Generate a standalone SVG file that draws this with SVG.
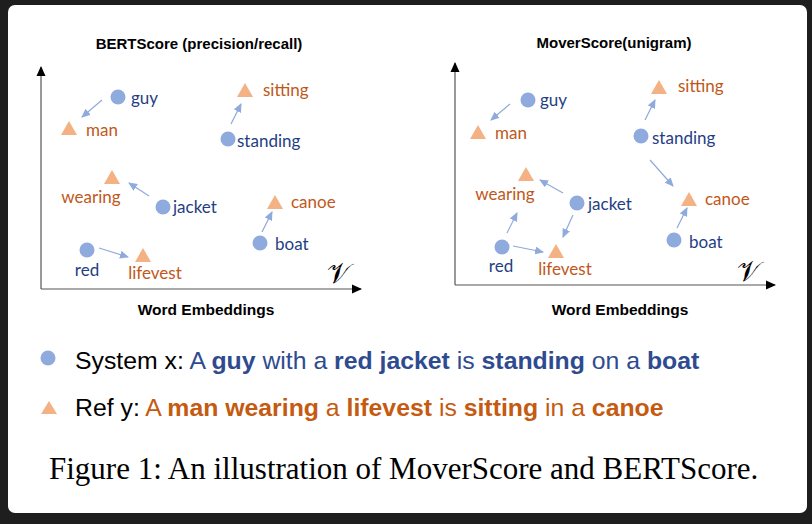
<svg xmlns="http://www.w3.org/2000/svg" width="812" height="524" viewBox="0 0 812 524">
<defs>
<marker id="arr" markerUnits="userSpaceOnUse" markerWidth="9" markerHeight="8" refX="8" refY="4" orient="auto"><path d="M0,0 L9,4 L0,8 Z" fill="#8FAADC"/></marker>
<marker id="axarr" markerUnits="userSpaceOnUse" markerWidth="10" markerHeight="10" refX="9" refY="5" orient="auto"><path d="M0,0.5 L10,5 L0,9.5 Z" fill="#000"/></marker>
</defs>
<style>
.sys{fill:#8FAADC}
.ref{fill:#F4B183}
.lb{font-family:Lato,"Open Sans",sans-serif;font-size:17px;fill:#243E84}
.lo{font-family:Lato,"Open Sans",sans-serif;font-size:17px;fill:#C0581A}
.ttl{font-family:"Liberation Sans",Arial,sans-serif;font-size:15px;font-weight:bold;fill:#000;text-anchor:middle}
.we{font-size:15.5px}
.ax{stroke:#555;stroke-width:1.2;fill:none;marker-end:url(#axarr)}
.cn{stroke:#8FAADC;stroke-width:1.2;fill:none;marker-end:url(#arr)}
.sent{font-family:"Liberation Sans",Arial,sans-serif;font-size:24.8px}
.b{font-weight:bold}
.cap{font-family:"Liberation Serif","Times New Roman",serif;font-size:31px;fill:#000}
.vv{font-family:"DejaVu Serif","Liberation Serif",serif;font-size:28px;fill:#000}
</style>
<rect width="812" height="524" fill="#1e1e1e"/>
<rect x="8" y="5" width="799" height="508" rx="7" fill="#fff"/>

<text class="ttl" x="199" y="49">BERTScore (precision/recall)</text>
<text class="ttl" x="614" y="48">MoverScore(unigram)</text>

<g id="axes">
<path class="ax" d="M41,289 L41,67"/>
<path class="ax" d="M41,289 L361,289"/>
<path class="ax" d="M455,285 L455,63"/>
<path class="ax" d="M455,285 L775,285"/>
<text class="vv" x="327" y="283">𝒱</text>
<text class="vv" x="737" y="281">𝒱</text>
</g>

<g id="connectors">
<path class="cn" d="M102,100 L82,117"/>
<path class="cn" d="M231,124 L241,104"/>
<path class="cn" d="M149,196 L129,183"/>
<path class="cn" d="M262,232 L272,212"/>
<path class="cn" d="M99,248 L128,257"/>
<path class="cn" d="M510,104 L491,120"/>
<path class="cn" d="M645,120 L655,100"/>
<path class="cn" d="M650,160 L673,186"/>
<path class="cn" d="M677,228 L687,208"/>
<path class="cn" d="M563,193 L540,180"/>
<path class="cn" d="M573,215 L563,237"/>
<path class="cn" d="M507,233 L517,213"/>
<path class="cn" d="M513,246 L543,252"/>
</g>

<g id="L-guy"><circle class="sys" cx="118" cy="97" r="7.5"/><text class="lb" x="131" y="104">guy</text></g>
<g id="L-man"><path class="ref" d="M69,121 L77,135 L61,135 Z"/><text class="lo" x="86" y="136">man</text></g>
<g id="L-sitting"><path class="ref" d="M245,83 L253,97 L237,97 Z"/><text class="lo" x="263" y="96">sitting</text></g>
<g id="L-standing"><circle class="sys" cx="228" cy="139" r="7.5"/><text class="lb" x="237" y="147">standing</text></g>
<g id="L-wearing"><path class="ref" d="M112,170 L120,184 L104,184 Z"/><text class="lo" x="91" y="203" text-anchor="middle">wearing</text></g>
<g id="L-jacket"><circle class="sys" cx="163" cy="207" r="7.5"/><text class="lb" x="173" y="213">jacket</text></g>
<g id="L-canoe"><path class="ref" d="M275,195 L283,209 L267,209 Z"/><text class="lo" x="291" y="208">canoe</text></g>
<g id="L-boat"><circle class="sys" cx="260" cy="243" r="7.5"/><text class="lb" x="275" y="250">boat</text></g>
<g id="L-red"><circle class="sys" cx="87" cy="250" r="7.5"/><text class="lb" x="87" y="276" text-anchor="middle">red</text></g>
<g id="L-lifevest"><path class="ref" d="M143,248 L151,262 L135,262 Z"/><text class="lo" x="155" y="279" text-anchor="middle">lifevest</text></g>

<g id="R-guy"><circle class="sys" cx="528" cy="100" r="7.5"/><text class="lb" x="540" y="106">guy</text></g>
<g id="R-man"><path class="ref" d="M478,125 L486,139 L470,139 Z"/><text class="lo" x="495" y="139">man</text></g>
<g id="R-sitting"><path class="ref" d="M659,80 L667,94 L651,94 Z"/><text class="lo" x="678" y="92">sitting</text></g>
<g id="R-standing"><circle class="sys" cx="641" cy="136" r="7.5"/><text class="lb" x="652" y="144">standing</text></g>
<g id="R-wearing"><path class="ref" d="M526,167 L534,181 L518,181 Z"/><text class="lo" x="505" y="200" text-anchor="middle">wearing</text></g>
<g id="R-jacket"><circle class="sys" cx="577" cy="203" r="7.5"/><text class="lb" x="588" y="210">jacket</text></g>
<g id="R-canoe"><path class="ref" d="M689,192 L697,206 L681,206 Z"/><text class="lo" x="705" y="205">canoe</text></g>
<g id="R-boat"><circle class="sys" cx="674" cy="240" r="7.5"/><text class="lb" x="689" y="248">boat</text></g>
<g id="R-red"><circle class="sys" cx="502" cy="247" r="7.5"/><text class="lb" x="501" y="272" text-anchor="middle">red</text></g>
<g id="R-lifevest"><path class="ref" d="M556,244 L564,258 L548,258 Z"/><text class="lo" x="565" y="275" text-anchor="middle">lifevest</text></g>

<text class="ttl we" x="206" y="315">Word Embeddings</text>
<text class="ttl we" x="620" y="315">Word Embeddings</text>

<g id="legend-sys">
<circle class="sys" cx="48" cy="358" r="7.5"/>
<text class="sent" x="75" y="369"><tspan fill="#000">System x: </tspan><tspan fill="#2F4B8F">A <tspan class="b">guy</tspan> with a <tspan class="b">red jacket</tspan> is <tspan class="b">standing</tspan> on a <tspan class="b">boat</tspan></tspan></text>
</g>
<g id="legend-ref">
<path class="ref" d="M49,401 L57,414 L41,414 Z"/>
<text class="sent" x="75" y="416"><tspan fill="#000">Ref y: </tspan><tspan fill="#C55A11">A <tspan class="b">man wearing</tspan> a <tspan class="b">lifevest</tspan> is <tspan class="b">sitting</tspan> in a <tspan class="b">canoe</tspan></tspan></text>
</g>

<text class="cap" x="49" y="479">Figure 1: An illustration of MoverScore and BERTScore.</text>
</svg>
